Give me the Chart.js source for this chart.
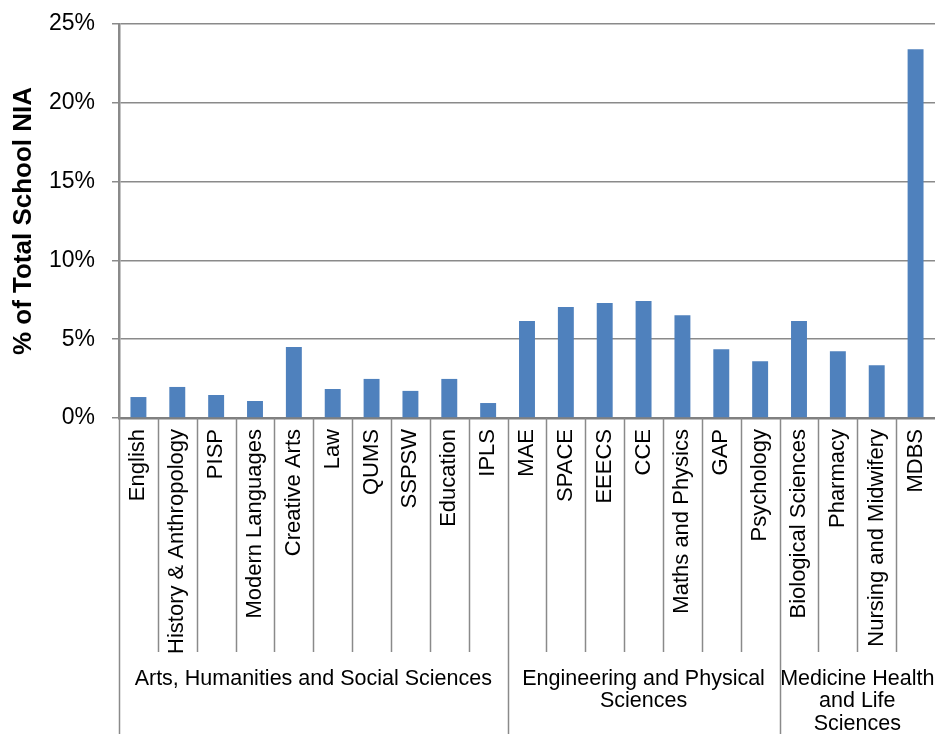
<!DOCTYPE html>
<html lang="en">
<head>
  <meta charset="UTF-8">
  <title>% of Total School NIA</title>
  <script src="https://cdn.jsdelivr.net/npm/chart.js"></script>
  <style>
    body { margin: 0; background: #fff; }
    canvas { display: block; }
  </style>
</head>
<body>
  <canvas id="niaChart" width="935" height="734"></canvas>
  <script>
    // schools, in axis order
    const schools = ['English', 'History & Anthropology', 'PISP', 'Modern Languages', 'Creative Arts',
      'Law', 'QUMS', 'SSPSW', 'Education', 'IPLS',
      'MAE', 'SPACE', 'EEECS', 'CCE', 'Maths and Physics', 'GAP', 'Psychology',
      'Biological Sciences', 'Pharmacy', 'Nursing and Midwifery', 'MDBS'];
    // % of total school NIA
    const niaShare = [1.33, 1.97, 1.46, 1.08, 4.51, 1.84, 2.48, 1.72, 2.48, 0.95,
      6.16, 7.05, 7.30, 7.43, 6.52, 4.36, 3.60,
      6.16, 4.24, 3.35, 23.4];
    // faculty groups: label lines + how many schools each one spans
    const facultyLines = [
      ['Arts, Humanities and Social Sciences'],
      ['Engineering and Physical', 'Sciences'],
      ['Medicine Health', 'and Life', 'Sciences']
    ];
    const facultySizes = [10, 7, 4];
    const yMax = 25;
    const yStep = 5;

    const FONT = "'Liberation Sans', Arial, sans-serif";
    const GREY = '#8a8a8a';

    // draws the second level of the category axis (faculty row + separators)
    const facultyAxis = {
      id: 'facultyAxis',
      afterDraw(chart) {
        const ctx = chart.ctx;
        const xs = chart.scales.x;
        const top = xs.top;
        const innerBottom = top + 234;
        const bottom = chart.height;

        const groupStarts = [];
        let s = 0;
        facultySizes.forEach(n => { groupStarts.push(s); s += n; });

        ctx.save();
        ctx.strokeStyle = GREY;
        ctx.lineWidth = 1.5;
        for (let i = 0; i < schools.length; i++) {
          const px = Math.round(xs.getPixelForValue(i - 0.5)) + 0.5;
          ctx.beginPath();
          ctx.moveTo(px, top);
          ctx.lineTo(px, groupStarts.includes(i) ? bottom : innerBottom);
          ctx.stroke();
        }

        ctx.fillStyle = '#000';
        ctx.font = '21.5px ' + FONT;
        ctx.textAlign = 'center';
        ctx.textBaseline = 'middle';
        facultyLines.forEach((lines, g) => {
          const a = xs.getPixelForValue(groupStarts[g] - 0.5);
          const b = xs.getPixelForValue(groupStarts[g] + facultySizes[g] - 0.5);
          lines.forEach((line, k) => {
            ctx.fillText(line, (a + b) / 2, top + 261 + k * 22.5);
          });
        });
        ctx.restore();
      }
    };

    new Chart(document.getElementById('niaChart'), {
      type: 'bar',
      data: {
        labels: schools,
        datasets: [{
          data: niaShare,
          backgroundColor: '#4f81bd',
          borderWidth: 0,
          barPercentage: 0.41,
          categoryPercentage: 1.0
        }]
      },
      options: {
        responsive: false,
        animation: false,
        layout: { padding: { top: 24, left: 0, right: 0, bottom: 0 } },
        plugins: {
          legend: { display: false },
          tooltip: { enabled: false }
        },
        scales: {
          x: {
            grid: { display: false, drawTicks: false },
            border: { display: true, color: '#808080', width: 2.5 },
            ticks: {
              autoSkip: false,
              minRotation: 90,
              maxRotation: 90,
              padding: 11,
              color: '#000',
              font: { family: FONT, size: 22 }
            },
            afterFit(scale) {
              scale.height = 316;
              scale.paddingLeft = 0;
              scale.paddingRight = 0;
            }
          },
          y: {
            min: 0,
            max: yMax,
            grid: { color: GREY, lineWidth: 1.5, tickLength: 7 },
            border: { display: true, color: GREY, width: 2.5 },
            ticks: {
              stepSize: yStep,
              padding: 17,
              color: '#000',
              font: { family: FONT, size: 23 },
              callback: v => v + '%'
            },
            title: {
              display: true,
              text: '% of Total School NIA',
              color: '#000',
              font: { family: FONT, size: 26, weight: 'bold' },
              padding: { top: 8, bottom: 0 }
            },
            afterFit(scale) {
              scale.width = 119;
              scale.paddingTop = 0;
              scale.paddingBottom = 0;
            }
          }
        }
      },
      plugins: [facultyAxis]
    });
  </script>
</body>
</html>
